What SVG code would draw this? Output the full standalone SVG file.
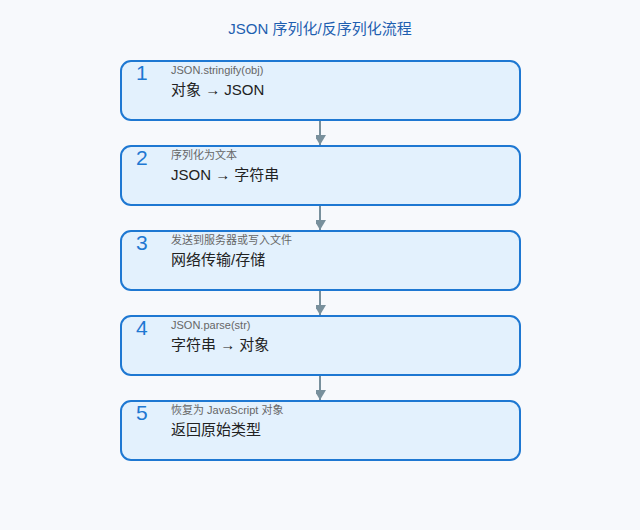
<svg xmlns="http://www.w3.org/2000/svg" width="640" height="530" viewBox="0 0 640 530">
<style>
.bg{fill:#f7f9fc}
.box{fill:#e3f1fd;stroke:#1e78d2;stroke-width:2}
.num{font-family:"Liberation Sans","Noto Sans CJK SC",sans-serif;font-size:21px;fill:#1e78d2}
.sub{font-family:"Liberation Sans","Noto Sans CJK SC",sans-serif;font-size:11px;fill:#666}
.main{font-family:"Liberation Sans","Noto Sans CJK SC",sans-serif;font-size:15px;fill:#222}
.title{font-family:"Liberation Sans","Noto Sans CJK SC",sans-serif;font-size:15px;fill:#1e5fb0;text-anchor:middle}
.conn{stroke:#78909c;stroke-width:2;fill:none}
</style>
<defs>
<marker id="ah" markerWidth="12" markerHeight="10" refX="10" refY="6" orient="auto" markerUnits="userSpaceOnUse">
<path d="M0,0 L10,6 L0,12 Z" fill="#78909c"/>
</marker>
</defs>
<rect class="bg" x="0" y="0" width="640" height="530"/>
<text class="title" x="320" y="34">JSON 序列化/反序列化流程</text>
<g id="connectors">
<line class="conn" x1="320" y1="121" x2="320" y2="145" marker-end="url(#ah)"/>
<line class="conn" x1="320" y1="206" x2="320" y2="230" marker-end="url(#ah)"/>
<line class="conn" x1="320" y1="291" x2="320" y2="315" marker-end="url(#ah)"/>
<line class="conn" x1="320" y1="376" x2="320" y2="400" marker-end="url(#ah)"/>
</g>
<g id="step1">
<rect class="box" x="121" y="61" width="399" height="59" rx="10"/>
<text class="num" x="136" y="80">1</text>
<text class="sub" x="171" y="74">JSON.stringify(obj)</text>
<text class="main" x="171" y="95">对象 → JSON</text>
</g>
<g id="step2">
<rect class="box" x="121" y="146" width="399" height="59" rx="10"/>
<text class="num" x="136" y="165">2</text>
<text class="sub" x="171" y="159">序列化为文本</text>
<text class="main" x="171" y="180">JSON → 字符串</text>
</g>
<g id="step3">
<rect class="box" x="121" y="231" width="399" height="59" rx="10"/>
<text class="num" x="136" y="250">3</text>
<text class="sub" x="171" y="244">发送到服务器或写入文件</text>
<text class="main" x="171" y="265">网络传输/存储</text>
</g>
<g id="step4">
<rect class="box" x="121" y="316" width="399" height="59" rx="10"/>
<text class="num" x="136" y="335">4</text>
<text class="sub" x="171" y="329">JSON.parse(str)</text>
<text class="main" x="171" y="350">字符串 → 对象</text>
</g>
<g id="step5">
<rect class="box" x="121" y="401" width="399" height="59" rx="10"/>
<text class="num" x="136" y="420">5</text>
<text class="sub" x="171" y="414">恢复为 JavaScript 对象</text>
<text class="main" x="171" y="435">返回原始类型</text>
</g>
</svg>
